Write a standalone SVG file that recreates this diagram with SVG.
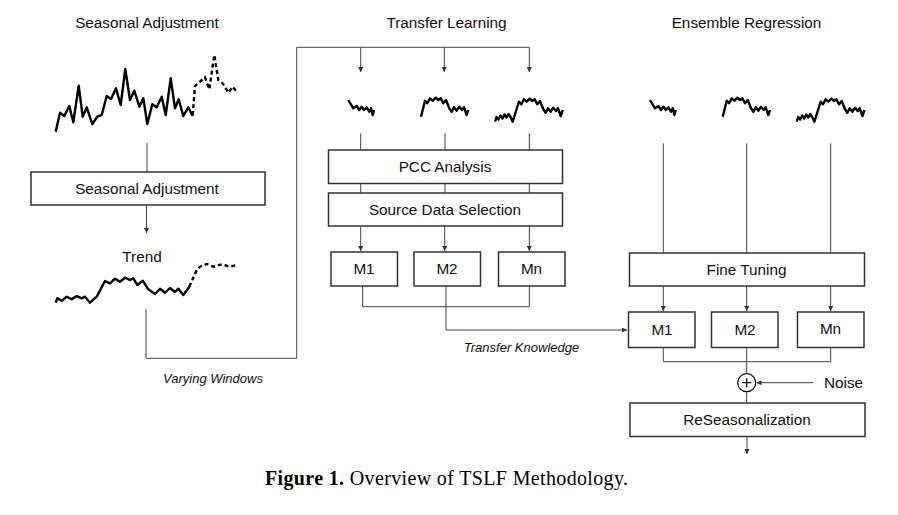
<svg xmlns="http://www.w3.org/2000/svg" width="898" height="515" viewBox="0 0 898 515">
<style>
.t{font-family:"Liberation Sans",Arial,sans-serif;font-size:15.3px;fill:#111;text-anchor:middle}
.i{font-family:"Liberation Sans",Arial,sans-serif;font-size:13px;font-style:italic;fill:#111;text-anchor:middle}
.box{fill:#fff;stroke:#333;stroke-width:1.5}
.c{fill:none;stroke:#444;stroke-width:1}
.s{fill:none;stroke:#000;stroke-width:2.4;stroke-linejoin:round}
.d{fill:none;stroke:#000;stroke-width:2.4;stroke-dasharray:4 3}
.cap{font-family:"Liberation Serif","Times New Roman",serif;font-size:20px;fill:#000}
</style>
<defs>
<marker id="a" viewBox="0 0 6 6" refX="6" refY="3" markerWidth="5" markerHeight="5" orient="auto" markerUnits="userSpaceOnUse">
<path d="M0,0 L6,3 L0,6 Z" fill="#333"/>
</marker>
<polyline id="m1" points="348.3,100 353.3,108.3 356.7,106 359.3,110 361.7,106.7 364,110 366.7,107.3 369.3,111.7 371,108.3 372.7,115 374,110"/>
<polyline id="m2" points="421,116.7 425,100.7 427.3,103.3 430,98.3 432.7,100.7 435.7,97.7 438.3,100 440.7,98.3 443.3,103.3 446,100 449.3,108.3 451.7,111.7 454,107.3 456.7,110.7 459.3,106.7 462,110 464,107.3 466.7,115 468.3,110"/>
<polyline id="m3" points="495,121.7 496.5,117 498.5,119.5 500.5,115.5 502.5,118.5 504.5,114.5 506.5,117.5 508.5,114 510.5,117 512.7,121.7 516,111 519,101.7 521.3,104.3 524,99.3 526.7,101.7 529.7,98.7 532.3,101 534.7,99.3 537.3,104.3 540,101 543.3,109.3 545.7,112.7 548,108.3 550.7,111.7 553.3,107.7 556,111 558,108.3 560.7,116 562.7,110"/>
</defs>

<g id="titles">
<text class="t" x="147" y="28">Seasonal Adjustment</text>
<text class="t" x="446.5" y="28">Transfer Learning</text>
<text class="t" x="746.5" y="28">Ensemble Regression</text>
</g>

<g id="series-original">
<polyline class="s" points="55.7,131.7 60,112.7 64.3,116 69.3,106 73.3,122.3 78.7,85.7 82.7,116.7 86.7,107.3 92.3,124 97.3,116.7 101.7,115 106.7,96 111,99 116,88.3 120.7,105 125.3,69 130,100 134.3,90.7 139.3,106.7 143.3,98.3 147.3,124 152.3,104.3 156.7,107.3 161.7,96.7 165.7,115 170.7,78.3 175,108.3 178.7,99.3 183.3,116 188.3,107.3 192.7,116"/>
<polyline class="d" points="192.7,115 195,86 200,81.7 205,77.3 209.3,89.3 214.3,55 218.3,80 222.7,83.3 228.3,92.7 232.7,86.7 237.3,92.7"/>
</g>

<g id="seasonal-adjustment">
<rect class="box" x="31" y="172" width="234" height="33"/>
<text class="t" x="147" y="194">Seasonal Adjustment</text>
</g>

<g id="trend">
<text class="t" x="142" y="262">Trend</text>
<polyline class="s" points="55.7,302.7 57.3,298.3 61.7,300.7 66.7,296.7 71.7,299.3 76.7,296 81.7,298.3 85,296.7 90,302.7 96.7,296.7 105,281 110,283.3 115,278.7 120,281.7 125,277.7 130,280 133.3,278.3 137.3,285 142.7,280.7 148.3,289.3 155,294 160,288.7 165,292.7 170,288 175,292 178.3,288.7 183.3,295 189.3,286.7"/>
<polyline class="d" points="189.3,286.7 196.7,270 200,266.7 206.7,264 213.3,266.7 221.7,264.3 230,266.7 236.7,265"/>
</g>

<g id="tl-series" class="s">
<use href="#m1"/><use href="#m2"/><use href="#m3"/>
</g>

<g id="pcc-analysis">
<rect class="box" x="328.5" y="150" width="234" height="33.5"/>
<text class="t" x="445" y="172">PCC Analysis</text>
</g>
<g id="source-data-selection">
<rect class="box" x="328.5" y="193" width="234" height="33"/>
<text class="t" x="445" y="215">Source Data Selection</text>
</g>
<g id="tl-m1"><rect class="box" x="331" y="252" width="66.5" height="34"/><text class="t" x="364" y="274">M1</text></g>
<g id="tl-m2"><rect class="box" x="414" y="252" width="66.5" height="34"/><text class="t" x="447" y="274">M2</text></g>
<g id="tl-mn"><rect class="box" x="498.5" y="252" width="66.5" height="34"/><text class="t" x="531.5" y="274">Mn</text></g>

<g id="er-series" class="s" transform="translate(301.7,0)">
<use href="#m1"/><use href="#m2"/><use href="#m3"/>
</g>

<g id="fine-tuning">
<rect class="box" x="629.5" y="253" width="235" height="33"/>
<text class="t" x="746.5" y="275">Fine Tuning</text>
</g>
<g id="er-m1"><rect class="box" x="628.5" y="312" width="66.5" height="35.5"/><text class="t" x="662" y="335">M1</text></g>
<g id="er-m2"><rect class="box" x="711.5" y="312" width="66.5" height="35.5"/><text class="t" x="745" y="335">M2</text></g>
<g id="er-mn"><rect class="box" x="797.5" y="312" width="66.5" height="35.5"/><text class="t" x="830.5" y="334">Mn</text></g>

<g id="sum">
<circle cx="746.7" cy="382.7" r="9" fill="#fff" stroke="#000" stroke-width="1.2"/>
<path d="M742.2,382.7 H751.2 M746.7,378.2 V387.2" stroke="#000" stroke-width="1.2"/>
</g>
<g id="noise"><text class="t" x="843.5" y="387.5">Noise</text></g>

<g id="reseasonalization">
<rect class="box" x="630" y="403" width="235" height="33.5"/>
<text class="t" x="747" y="425">ReSeasonalization</text>
</g>

<g id="connectors">
<path class="c" d="M147,143 V172"/>
<path class="c" d="M146.5,205 V233" marker-end="url(#a)"/>
<path class="c" d="M146,309 V358.3 H296.7 V47.3 H529.3"/>
<path class="c" d="M360.7,47.3 V72" marker-end="url(#a)"/>
<path class="c" d="M444.3,47.3 V72" marker-end="url(#a)"/>
<path class="c" d="M529.3,47.3 V72" marker-end="url(#a)"/>
<path class="c" d="M360.7,133.3 V150 M445,133.3 V150 M529.3,133.3 V150"/>
<path class="c" d="M360.7,183.5 V193 M445,183.5 V193 M529.3,183.5 V193"/>
<path class="c" d="M360.7,226 V251" marker-end="url(#a)"/>
<path class="c" d="M444.7,226 V251" marker-end="url(#a)"/>
<path class="c" d="M529.3,226 V251" marker-end="url(#a)"/>
<path class="c" d="M362.7,286 V306.7 H529.3 V286"/>
<path class="c" d="M446,286 V330 H627" marker-end="url(#a)"/>
<path class="c" d="M663.3,143.3 V253 M746.7,143.3 V253 M830.7,143.3 V253"/>
<path class="c" d="M663.3,286 V311" marker-end="url(#a)"/>
<path class="c" d="M746.7,286 V311" marker-end="url(#a)"/>
<path class="c" d="M830.7,286 V311" marker-end="url(#a)"/>
<path class="c" d="M663.3,347.5 V361.7 H830.7 V347.5"/>
<path class="c" d="M746.7,347.5 V373.7"/>
<path class="c" d="M813.3,382.7 H756.5" marker-end="url(#a)"/>
<path class="c" d="M746.7,391.7 V403"/>
<path class="c" d="M747,436.5 V454" marker-end="url(#a)"/>
</g>

<g id="labels">
<text class="i" x="213" y="382.5">Varying Windows</text>
<text class="i" x="521.5" y="351.5">Transfer Knowledge</text>
</g>

<text class="cap" x="265" y="485" textLength="363" lengthAdjust="spacing"><tspan font-weight="bold">Figure 1.</tspan> Overview of TSLF Methodology.</text>
</svg>
